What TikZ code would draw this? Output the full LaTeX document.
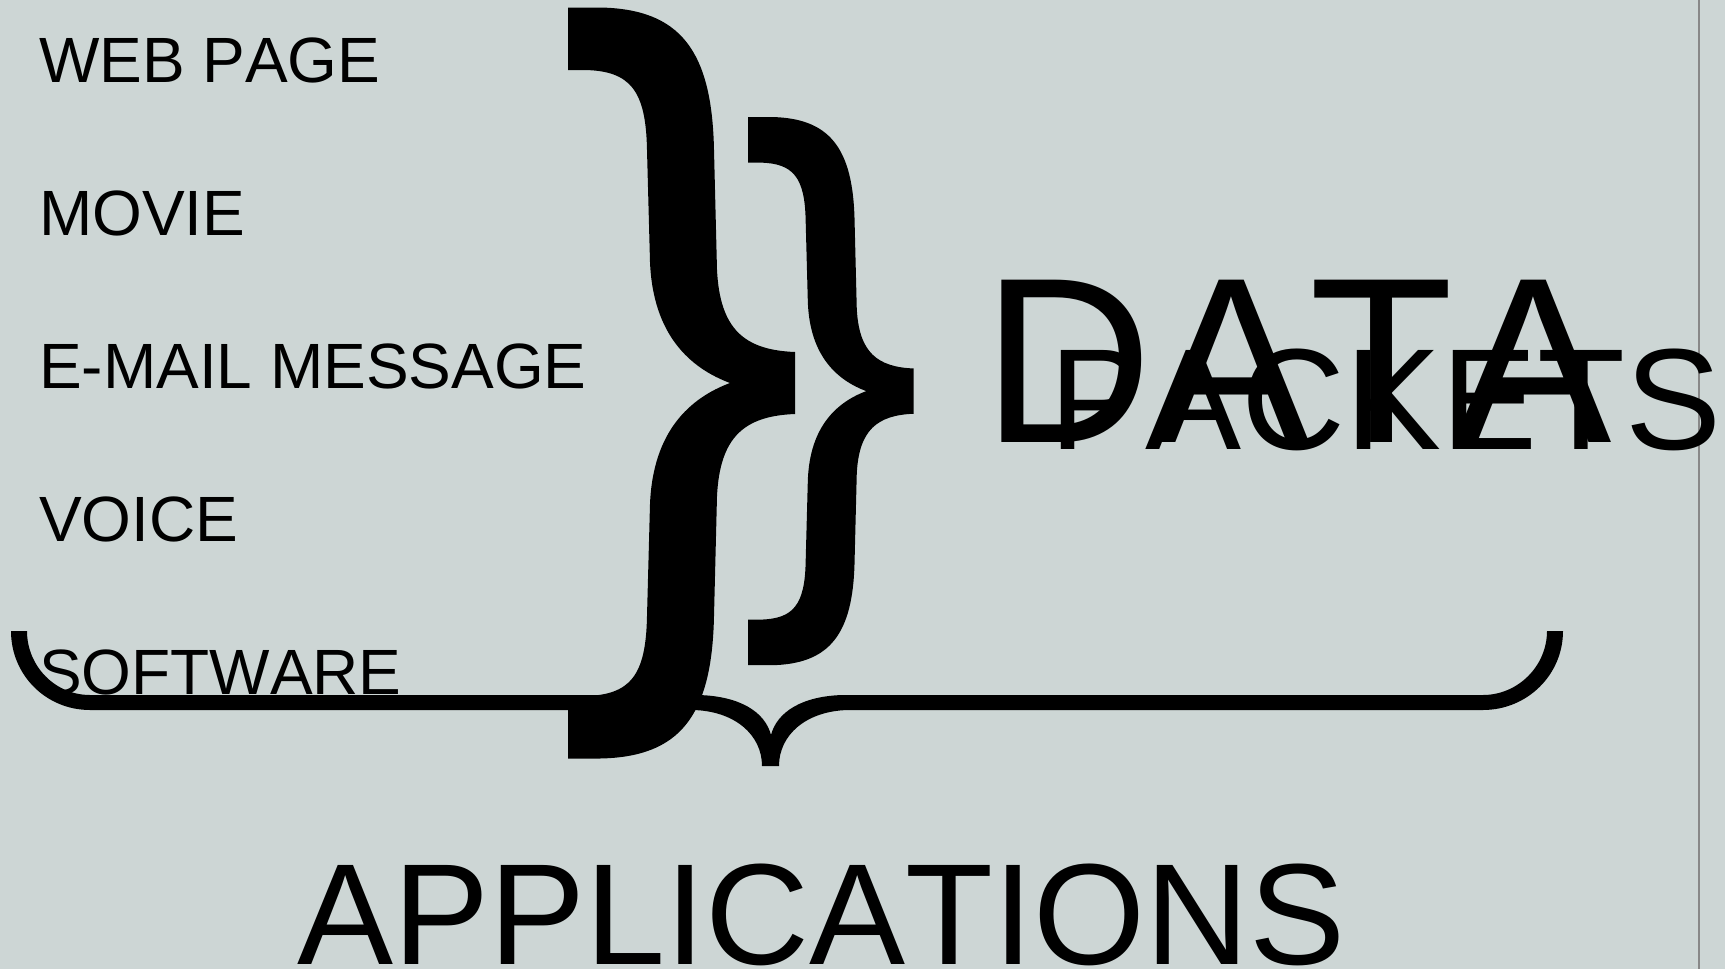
\documentclass[tikz,border=0pt]{standalone}
\usepackage{fontspec}
\setmainfont{Liberation Sans}[Kerning=Off]
\definecolor{bgcol}{RGB}{205,214,213}
\definecolor{rulecol}{RGB}{136,136,136}
\newcommand\mybracepath{(0,0) -- (32,0) .. controls (112,1.5) and (144,42.5) .. (146,142.5) -- (149,262.5) .. controls (152,322.5) and (177,342.5) .. (227,344.5) -- (227,406.5) .. controls (177,408.5) and (152,428.5) .. (149,488.5) -- (146,608.5) .. controls (144,708.5) and (112,749.5) .. (32,751) -- (0,751) -- (0,688.5) -- (17,688.5) .. controls (62,687.5) and (78,668.5) .. (79,608.5) -- (82,496.5) .. controls (85,423.5) and (122,390.5) .. (162,375.5) .. controls (122,360.5) and (85,327.5) .. (82,254.5) -- (79,142.5) .. controls (78,82.5) and (62,63.5) .. (17,62.5) -- (0,62.5) -- cycle}
\begin{document}
\begin{tikzpicture}[x=1pt,y=-1pt,
  label/.style={anchor=base west,inner sep=0pt,outer sep=0pt,text=black,font=\fontsize{64}{64}\selectfont},
  bigtext/.style={anchor=base west,inner sep=0pt,outer sep=0pt,text=black},
  bracefill/.style={fill=black,draw=none}]
\useasboundingbox (0,0) rectangle (1725,969);
\fill[bgcol] (0,0) rectangle (1725,969);
\draw[rulecol,line width=2pt] (1699,0) -- (1699,969);
% labels
\node[label] (web) at (39,82) {WEB PAGE};
\node[label] (movie) at (39,235) {MOVIE};
\node[label] (email) at (39,388) {E-MAIL MESSAGE};
\node[label] (voice) at (39,541) {VOICE};
\node[label] (soft) at (39,694) {SOFTWARE};
% braces
\fill[bracefill,shift={(568,7.5)}] \mybracepath;
\fill[bracefill,shift={(748,117)},scale=0.73] \mybracepath;
\fill[bracefill] (11,631) .. controls (11,675) and (46,710) .. (90,710) -- (693,710) .. controls (735,711) and (762,735) .. (762,766) -- (779,766) .. controls (779,735) and (806,711) .. (848,710) -- (1483,710) .. controls (1527,710) and (1563,675) .. (1563,631) -- (1547,631) .. controls (1547,666) and (1518,695) .. (1483,695) -- (843,695) .. controls (802,696) and (777,712) .. (771,735) .. controls (765,712) and (740,696) .. (698,695) -- (90,695) .. controls (55,695) and (27,666) .. (27,631) -- cycle;
% big words
\node[bigtext,font=\fontsize{236}{236}\selectfont] (data) at (982,442) {DATA};
\node[bigtext,font=\fontsize{144}{144}\selectfont] (packets) at (1049,449) {PACKETS};
\node[bigtext,font=\fontsize{144}{144}\selectfont] (apps) at (297,964) {APPLICATIONS};
\end{tikzpicture}
\end{document}
